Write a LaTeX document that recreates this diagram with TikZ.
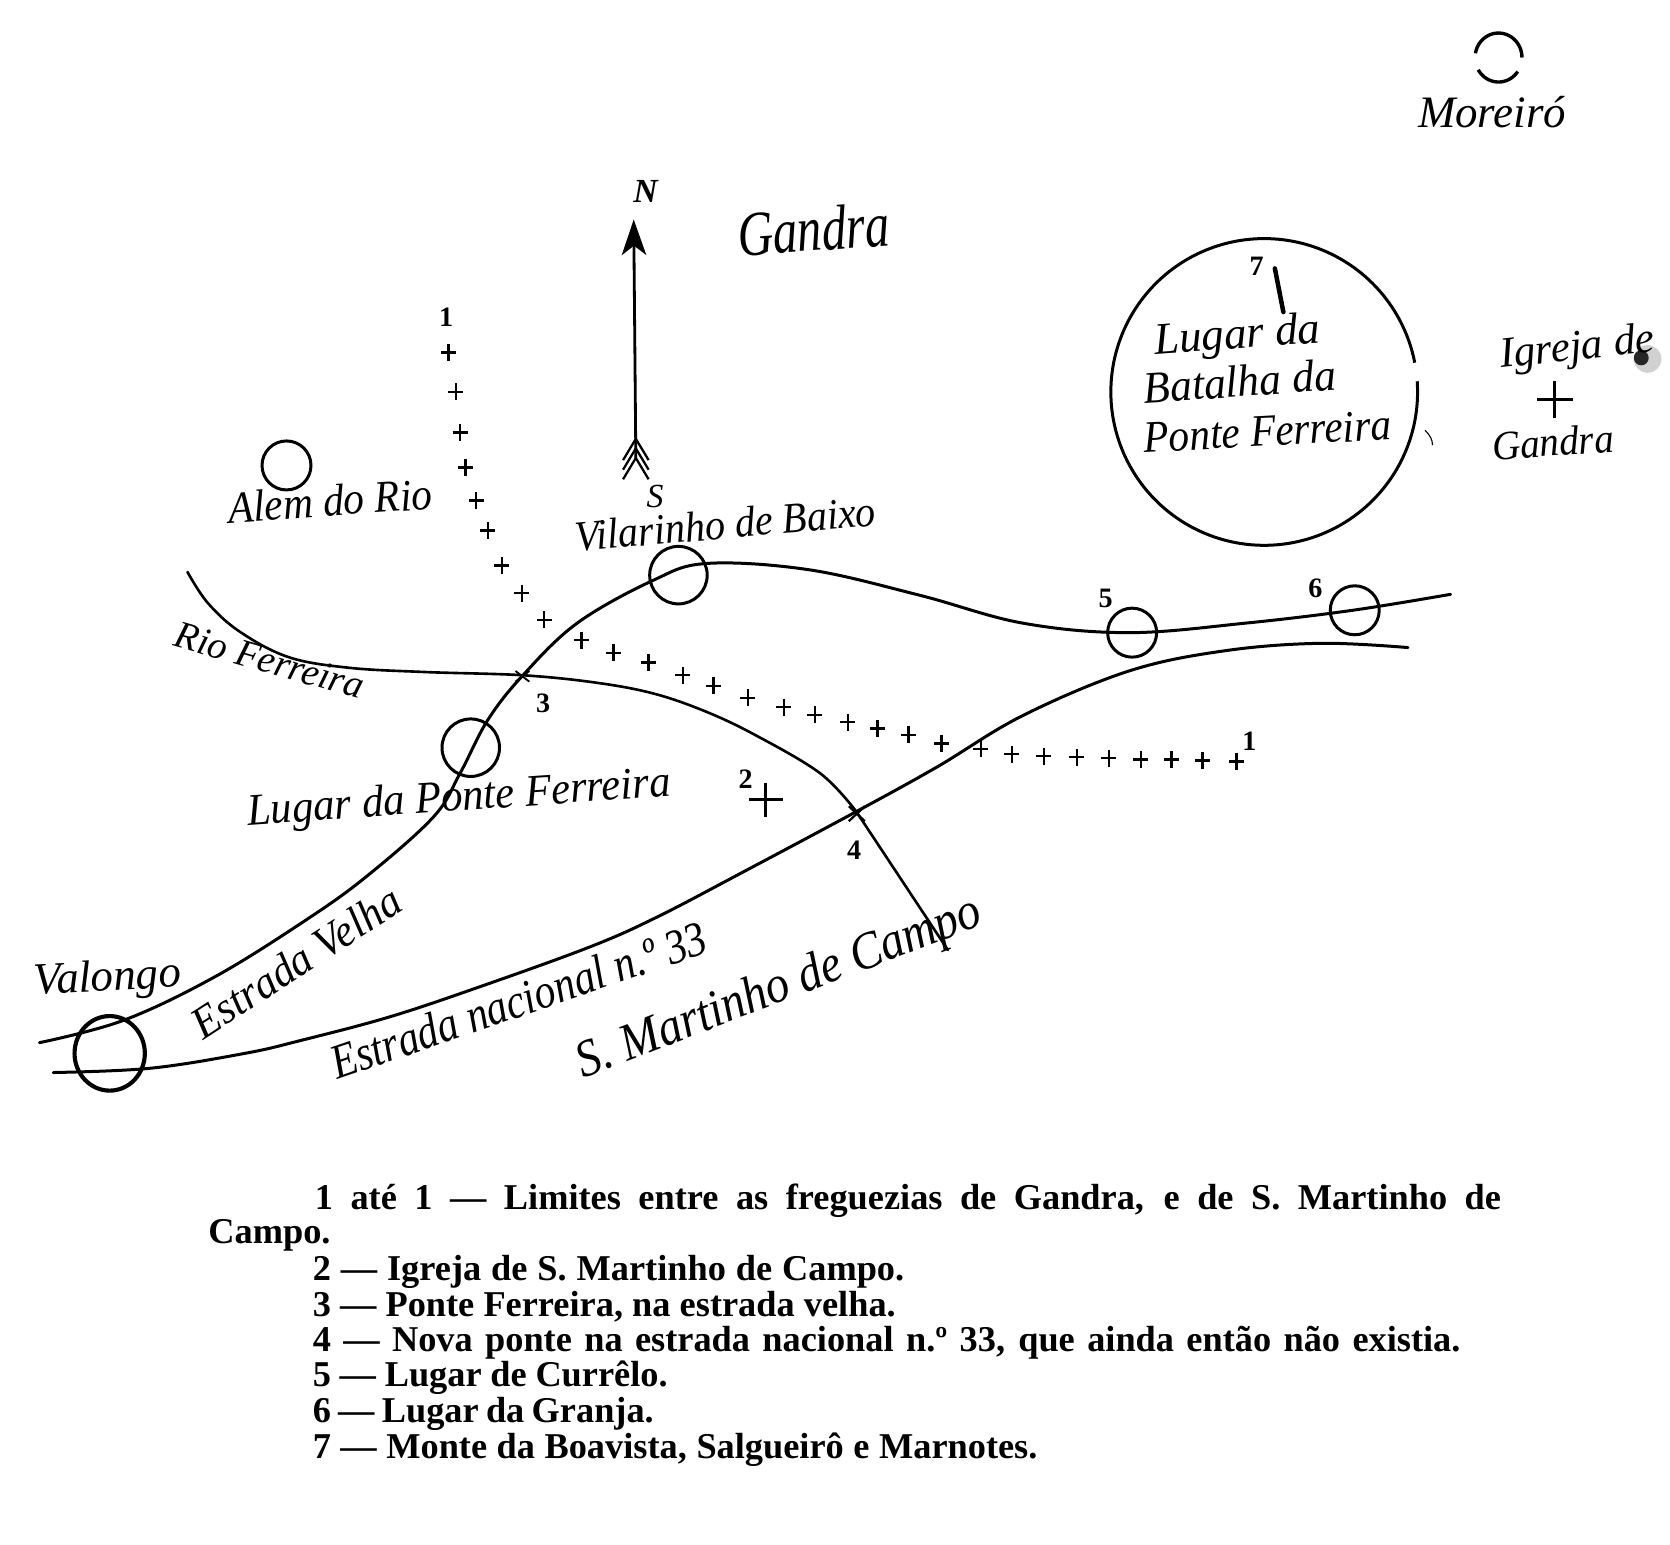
\documentclass[tikz,border=0pt]{standalone}
\usepackage{fontspec}
\usepackage{graphicx}
\setmainfont{Liberation Serif}
\usetikzlibrary{arrows.meta}
\newcommand{\fs}[1]{\fontsize{#1}{#1}\selectfont}
\newcommand{\nar}[2]{\scalebox{#1}[1]{#2}}
\tikzset{
  road/.style={line width=0.8pt,line cap=round,line join=round},
  town/.style={line width=0.8pt},
  hand/.style={inner sep=0pt},
  num/.style={inner sep=0pt,font=\bfseries\fs{7.5}},
  legend/.style={inner sep=0pt,anchor=base west,font=\bfseries\fs{9.7}},
  crossmark/.style={line width=0.6pt},
}
\begin{document}
\begin{tikzpicture}[x=0.01cm,y=-0.01cm]
\useasboundingbox (0,0) rectangle (1568,1450);
\fill[white] (0,0) rectangle (1568,1450);
% roads and river
\draw[road] plot[smooth,tension=.6] coordinates {(37,979) (116,958) (202,917) (287,864) (344,823) (407,767) (432,726) (458,676) (491,634) (542,585) (613,545) (664,529) (760,535) (864,559) (960,585) (1060,594) (1170,585) (1270,573) (1362,558)};
\draw[road] plot[smooth,tension=.6] coordinates {(50,1007) (141,1003) (230,989) (282,977) (365,955) (449,927) (554,889) (617,861) (701,817) (804,762) (880,720) (960,672) (1060,630) (1150,611) (1240,604) (1322,608)};
\draw[road,line width=0.7pt] plot[smooth,tension=.6] coordinates {(176,537) (195,566) (225,593) (271,617) (328,627) (400,631) (491,634) (560,641) (613,651) (660,667) (707,689) (770,726) (804,762)};
\draw[road,line width=0.7pt] (804,762) -- (890,892);
% towns
\draw[town] (269,437) circle (23);
\draw[town] (637,540) circle (27);
\draw[town] (442,702) circle (27);
\draw[town] (1063,594) circle (23);
\draw[town] (1272,573) circle (23);
\draw[town,line width=1.1pt] (103,989) ellipse (33 and 35);
\draw[town] plot[smooth,samples=140,domain=-4:349] ({1187+144*cos(\x)},{368+144*sin(\x)});
% Moreiro ring
\draw[town,line width=0.9pt] plot[smooth,samples=30,domain=190:360] ({1407+22*cos(\x)},{54+23*sin(\x)});
\draw[town,line width=0.9pt] plot[smooth,samples=20,domain=35:150] ({1407+22*cos(\x)},{54+23*sin(\x)});
% north arrow
\draw[line width=0.75pt,-{Stealth[length=9.5pt,width=6.5pt,inset=2.5pt]}] (597,430) -- (595,206);
\foreach \d in {0,9,18}{\draw[line width=0.6pt] (585,432+\d) -- (597,412+\d) -- (609,432+\d);}
% lines near 7
\draw[line width=1.2pt,line cap=round] (1197,252) -- (1205,293);
\draw[line width=0.3pt] (1338,404) .. controls (1343,409) and (1345,413) .. (1345,418);
% crosses
\foreach \x/\y in {421/331,428/368,432/406,437/439,447/470,458/498,471/531,490/557,511/582,546/601,576/613,609/622,641/634,670/644,702/655,736/664,765/671,796/678,824/684,853/690,884/698,921/703,950/708,980/710,1011/711,1041/712,1071/713,1100/713,1129/714,1161/715}
  {\draw[crossmark] (\x-7,\y) -- (\x+7,\y) (\x,\y-8) -- (\x,\y+8);}
\draw[line width=0.8pt] (703,751) -- (735,751) (719,735) -- (719,767);
\draw[line width=0.8pt] (1443,375) -- (1477,375) (1460,358) -- (1460,392);
\draw[line width=0.5pt] (484,630) -- (497,640) (484,640) -- (497,630);
\draw[line width=0.6pt] (797,757) -- (812,771) (797,771) -- (812,757);
% ink blot by Igreja de
\fill[black!18] (1547,337) circle (13);
\fill[black!85] (1541,336) circle (7);
% numbers
\node[num] (n1a) at (419,298) {1};
\node[num] (n1b) at (1173,696) {1};
\node[num] (n2) at (700,732) {2};
\node[num] (n3) at (510,660) {3};
\node[num] (n4) at (802,798) {4};
\node[num] (n5) at (1038,562) {5};
\node[num] (n6) at (1235,552) {6};
\node[num] (n7) at (1180,250) {7};
% labels
\node[hand,font=\itshape\fs{12}] (lmor) at (1401,105) {Moreiró};
\node[hand,font=\itshape\bfseries\fs{9}] (ln) at (606,180) {N};
\node[hand,font=\itshape\fs{9}] (ls) at (615,466) {S};
\node[hand,font=\itshape\fs{17},rotate=4] (lgan) at (764,215) {\nar{.77}{Gandra}};
\node[hand,font=\itshape\fs{12},rotate=4] (lalem) at (310,470) {\nar{.92}{Alem do Rio}};
\node[hand,font=\itshape\fs{11.5},rotate=5] (lvil) at (681,492) {\nar{.93}{Vilarinho de Baixo}};
\node[hand,font=\itshape\fs{10.3},rotate=-16] (lrio) at (253,620) {Rio Ferreira};
\node[hand,font=\itshape\fs{12},rotate=4] (lpon) at (431,751) {\nar{.95}{Lugar da Ponte Ferreira}};
\node[hand,font=\itshape\fs{12},rotate=3] (lval) at (101,920) {Valongo};
\node[hand,font=\itshape\fs{12},rotate=33] (lvel) at (278,903) {\nar{.95}{Estrada Velha}};
\node[hand,font=\itshape\fs{13},rotate=19] (lnac) at (487,939) {\nar{.855}{Estrada nacional n.º 33}};
\node[hand,font=\itshape\fs{14},rotate=21] (lmar) at (732,929) {\nar{.9}{S. Martinho de Campo}};
\node[hand,font=\itshape\fs{12},rotate=4] (lb1) at (1162,317) {Lugar da};
\node[hand,font=\itshape\fs{12},rotate=4] (lb2) at (1164,358) {\nar{.97}{Batalha da}};
\node[hand,font=\itshape\fs{12},rotate=3] (lb3) at (1190,405) {\nar{.92}{Ponte Ferreira}};
\node[hand,font=\itshape\fs{11.5},rotate=6] (lig) at (1481,328) {Igreja de};
\node[hand,font=\itshape\fs{11},rotate=4] (lig2) at (1458,415) {\nar{.95}{Gandra}};
% legend
\node[legend] (t1) at (295,1136) {\makebox[11.13cm][s]{1 até 1 — Limites entre as freguezias de Gandra, e de S. Martinho de}};
\node[legend] (t1c) at (195,1168) {Campo.};
\node[legend] (t2) at (293,1202) {\makebox[5.55cm][s]{2 — Igreja de S. Martinho de Campo.}};
\node[legend] (t3) at (293,1236) {\makebox[5.47cm][s]{3 — Ponte Ferreira, na estrada velha.}};
\node[legend] (t4) at (293,1269) {\makebox[10.77cm][s]{4 — Nova ponte na estrada nacional n.º 33, que ainda então não existia.}};
\node[legend] (t5) at (293,1302) {\makebox[3.33cm][s]{5 — Lugar de Currêlo.}};
\node[legend] (t6) at (293,1336) {\makebox[3.2cm][s]{6 — Lugar da Granja.}};
\node[legend] (t7) at (293,1369) {\makebox[6.8cm][s]{7 — Monte da Boavista, Salgueirô e Marnotes.}};
\end{tikzpicture}
\end{document}
